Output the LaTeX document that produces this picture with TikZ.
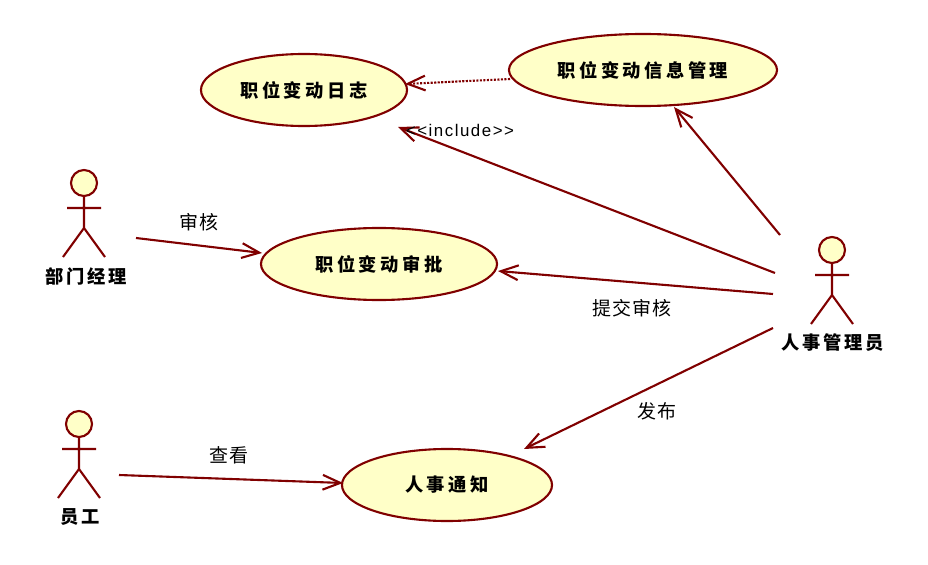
\documentclass[tikz,border=0pt]{standalone}
\usepackage{fontspec}
\usepackage{tikz}
\usetikzlibrary{arrows.meta, shapes.geometric}
\setmainfont{Noto Sans CJK SC}
\newfontfamily\latinfont{Liberation Sans}
\definecolor{umlred}{HTML}{800000}
\definecolor{umlfill}{HTML}{FFFFC8}
\tikzset{
	usecase/.style={ellipse, draw=umlred, fill=umlfill, line width=1.5pt, inner sep=0pt, font=\fontsize{13}{13}\selectfont\bfseries\addfontfeature{LetterSpace=19}},
	actorhead/.style={circle, draw=umlred, fill=umlfill, line width=1.5pt, minimum size=26*0.7113pt, inner sep=0pt},
	actorname/.style={font=\fontsize{13}{13}\selectfont\bfseries\addfontfeature{LetterSpace=15}},
	label/.style={font=\fontsize{13.5}{13.5}\selectfont\addfontfeature{LetterSpace=4}},
	assoc/.style={draw=umlred, line width=1.5pt, -{Straight Barb[length=12.5pt,width=10.5pt]}},
}
\begin{document}
\begin{tikzpicture}[x=0.025cm, y=-0.025cm]
	\useasboundingbox (0,0) rectangle (928,565);
	% use cases
	\node (rizhi) at (304,90) [usecase, minimum width=206*0.7113pt, minimum height=72*0.7113pt] {职位变动日志};
	\node (xinxi) at (643,70) [usecase, minimum width=268*0.7113pt, minimum height=72*0.7113pt] {职位变动信息管理};
	\node (shenpi) at (379,264) [usecase, minimum width=236*0.7113pt, minimum height=72*0.7113pt] {职位变动审批};
	\node (tongzhi) at (447,485) [usecase, minimum width=210*0.7113pt, minimum height=72*0.7113pt] {人事通知};
	% actors
	\foreach \name/\x/\y in {jingli/84/183, yuangong/79/424, renshi/832/250}{
		\node (\name) at (\x,\y) [actorhead] {};
		\coordinate (\name hip) at (\x,\y+45);
		\draw[umlred, line width=1.5pt] (\name) -- (\name hip)
			(\x-17,\y+25) -- (\x+17,\y+25)
			(\x-21,\y+74) -- (\name hip) -- (\x+21,\y+74);
	}
	\node (jinglitext) at (86,276) [actorname] {部门经理};
	\node (yuangongtext) at (80,517) [actorname] {员工};
	\node (renshitext) at (833,343) [actorname] {人事管理员};
	% free ends of the connectors
	\coordinate (a1) at (136,238);
	\coordinate (a2) at (119,475);
	\coordinate (b1) at (780,235);
	\coordinate (b2) at (775,273);
	\coordinate (b3) at (773,294);
	\coordinate (b4) at (773,328);
	\coordinate (c1) at (398,127);
	\coordinate (c2) at (524,449);
	\coordinate (c3) at (674,107);
	\coordinate (c4) at (510,79);
	\coordinate (c5) at (405,84);
	\coordinate (c6) at (262,253);
	\coordinate (c7) at (498,271);
	\coordinate (c8) at (343,483);
	\draw[assoc] (a1) -- (c6);
	\draw[assoc] (a2) -- (c8);
	\draw[assoc] (b1) -- (c3);
	\draw[assoc] (b2) -- (c1);
	\draw[assoc] (b3) -- (c7);
	\draw[assoc] (b4) -- (c2);
	\draw[assoc, densely dotted] (c4) -- (c5);
	% labels
	\node (l1) at (199,222) [label] {审核};
	\node (l2) at (632,308) [label] {提交审核};
	\node (l3) at (657,411) [label] {发布};
	\node (l4) at (229,455) [label] {查看};
	\node (l5) at (460,130) [font=\fontsize{12}{12}\selectfont\latinfont\addfontfeature{LetterSpace=9}] {<{}<include>{}>};
\end{tikzpicture}
\end{document}
